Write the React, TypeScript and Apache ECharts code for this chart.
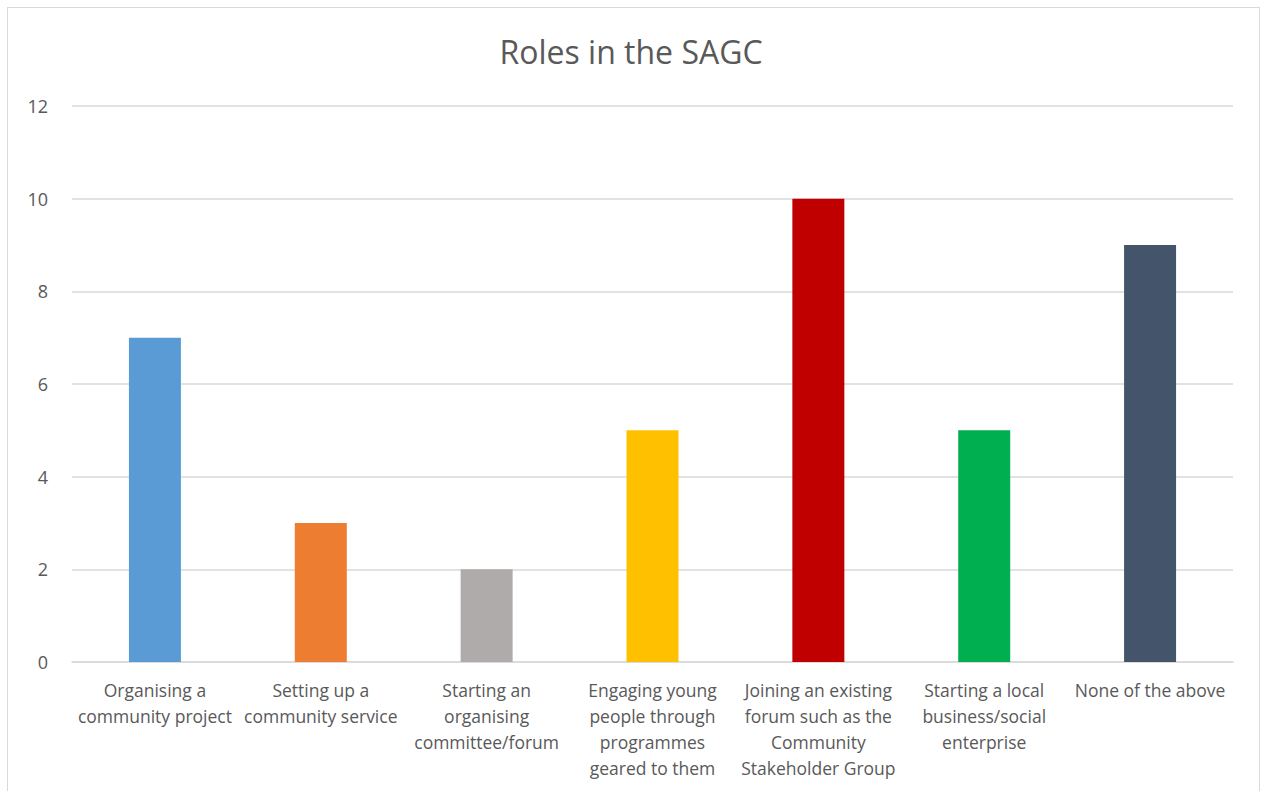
import React, { useEffect, useRef } from "react";
import * as echarts from "echarts";

const categories = [
  "Organising a\ncommunity project",
  "Setting up a\ncommunity service",
  "Starting an\norganising\ncommittee/forum",
  "Engaging young\npeople through\nprogrammes\ngeared to them",
  "Joining an existing\nforum such as the\nCommunity\nStakeholder Group",
  "Starting a local\nbusiness/social\nenterprise",
  "None of the above",
];
const values = [7, 3, 2, 5, 10, 5, 9];
const colors = ["#5B9BD5", "#ED7D31", "#AFABAB", "#FFC000", "#C00000", "#00B050", "#44546A"];

export default function App() {
  const ref = useRef<HTMLDivElement>(null);
  useEffect(() => {
    const chart = echarts.init(ref.current!, null, { renderer: "svg" });
    chart.setOption({
      animation: false,
      backgroundColor: "transparent",
      title: {
        text: "Roles in the SAGC",
        left: "center",
        top: 30,
        textStyle: { fontFamily: "Open Sans", fontSize: 32, fontWeight: "normal", color: "#595959" },
      },
      grid: { left: 72, right: 29, top: 106, bottom: 129, containLabel: false },
      xAxis: {
        type: "category",
        data: categories,
        axisLine: { lineStyle: { color: "#d9d9d9", width: 1.5 } },
        axisTick: { show: false },
        axisLabel: {
          interval: 0,
          color: "#595959",
          fontFamily: "Open Sans",
          fontSize: 17.5,
          lineHeight: 26,
          margin: 15,
        },
      },
      yAxis: {
        type: "value",
        min: 0,
        max: 12,
        interval: 2,
        axisLine: { show: false },
        axisTick: { show: false },
        splitLine: { lineStyle: { color: "#d9d9d9", width: 1.5 } },
        axisLabel: { color: "#595959", fontFamily: "Open Sans", fontSize: 18, margin: 24 },
      },
      series: [
        {
          type: "bar",
          barWidth: 52,
          data: values.map((v, i) => ({ value: v, itemStyle: { color: colors[i] } })),
        },
      ],
    });
    return () => chart.dispose();
  }, []);
  return (
    <div style={{ position: "absolute", left: 0, top: 0, width: 1262, height: 791, background: "#fff" }}>
      <div
        style={{
          position: "absolute",
          left: 7,
          top: 7,
          width: 1253,
          height: 800,
          border: "1.5px solid #d9d9d9",
          boxSizing: "border-box",
        }}
      />
      <div ref={ref} style={{ position: "absolute", left: 0, top: 0, width: 1262, height: 791 }} />
    </div>
  );
}
